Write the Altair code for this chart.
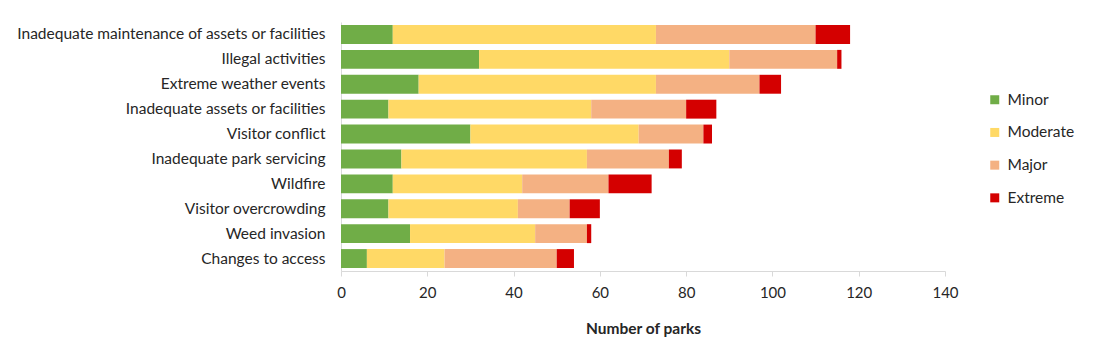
import altair as alt
import pandas as pd

categories = [
    "Inadequate maintenance of assets or facilities",
    "Illegal activities",
    "Extreme weather events",
    "Inadequate assets or facilities",
    "Visitor conflict",
    "Inadequate park servicing",
    "Wildfire",
    "Visitor overcrowding",
    "Weed invasion",
    "Changes to access",
]
severities = ["Minor", "Moderate", "Major", "Extreme"]
minor = [12, 32, 18, 11, 30, 14, 12, 11, 16, 6]
moderate = [61, 58, 55, 47, 39, 43, 30, 30, 29, 18]
major = [37, 25, 24, 22, 15, 19, 20, 12, 12, 26]
extreme = [8, 1, 5, 7, 2, 3, 10, 7, 1, 4]
colors = ["#70AD47", "#FFD966", "#F4B183", "#D40000"]
x_ticks = [0, 20, 40, 60, 80, 100, 120, 140]

series = {"Minor": minor, "Moderate": moderate, "Major": major, "Extreme": extreme}
rows = []
for si, s in enumerate(severities):
    for c, v in zip(categories, series[s]):
        rows.append({"Threat": c, "Severity": s, "order": si, "Parks": v})
df = pd.DataFrame(rows)

FONT = "Lato"

chart = (
    alt.Chart(df)
    .mark_bar()
    .encode(
        y=alt.Y(
            "Threat:N",
            sort=categories,
            title=None,
            scale=alt.Scale(paddingInner=0.24, paddingOuter=0.12),
            axis=alt.Axis(
                ticks=False,
                domainColor="#D9D9D9",
                labelPadding=16,
                labelFontSize=15.5,
                labelColor="#262626",
                labelFont=FONT,
                labelLimit=400,
            ),
        ),
        x=alt.X(
            "Parks:Q",
            stack="zero",
            title="Number of parks",
            scale=alt.Scale(domain=[0, 140], nice=False),
            axis=alt.Axis(
                values=x_ticks,
                grid=False,
                domainColor="#D9D9D9",
                tickColor="#D9D9D9",
                tickSize=5,
                labelFlush=False,
                labelPadding=9,
                labelFontSize=15,
                labelColor="#262626",
                labelFont=FONT,
                titleFont=FONT,
                titleFontSize=15.5,
                titleFontWeight="bold",
                titleColor="#262626",
                titlePadding=21,
            ),
        ),
        color=alt.Color(
            "Severity:N",
            sort=severities,
            scale=alt.Scale(domain=severities, range=colors),
            legend=alt.Legend(
                title=None,
                orient="none",
                legendX=646,
                legendY=70,
                symbolType="square",
                symbolSize=81,
                symbolStrokeWidth=0,
                labelFontSize=15.5,
                labelFont=FONT,
                labelColor="#262626",
                rowPadding=15.7,
                labelOffset=5,
            ),
        ),
        order=alt.Order("order:Q", sort="ascending"),
    )
    .properties(
        width=604,
        height=249,
        background="white",
        autosize=alt.AutoSizeParams(type="none"),
        padding={"left": 341, "top": 22, "right": 148, "bottom": 84},
    )
    .configure_view(stroke=None)
)

chart.save("out.html", embed_options={"renderer": "svg", "actions": False})
